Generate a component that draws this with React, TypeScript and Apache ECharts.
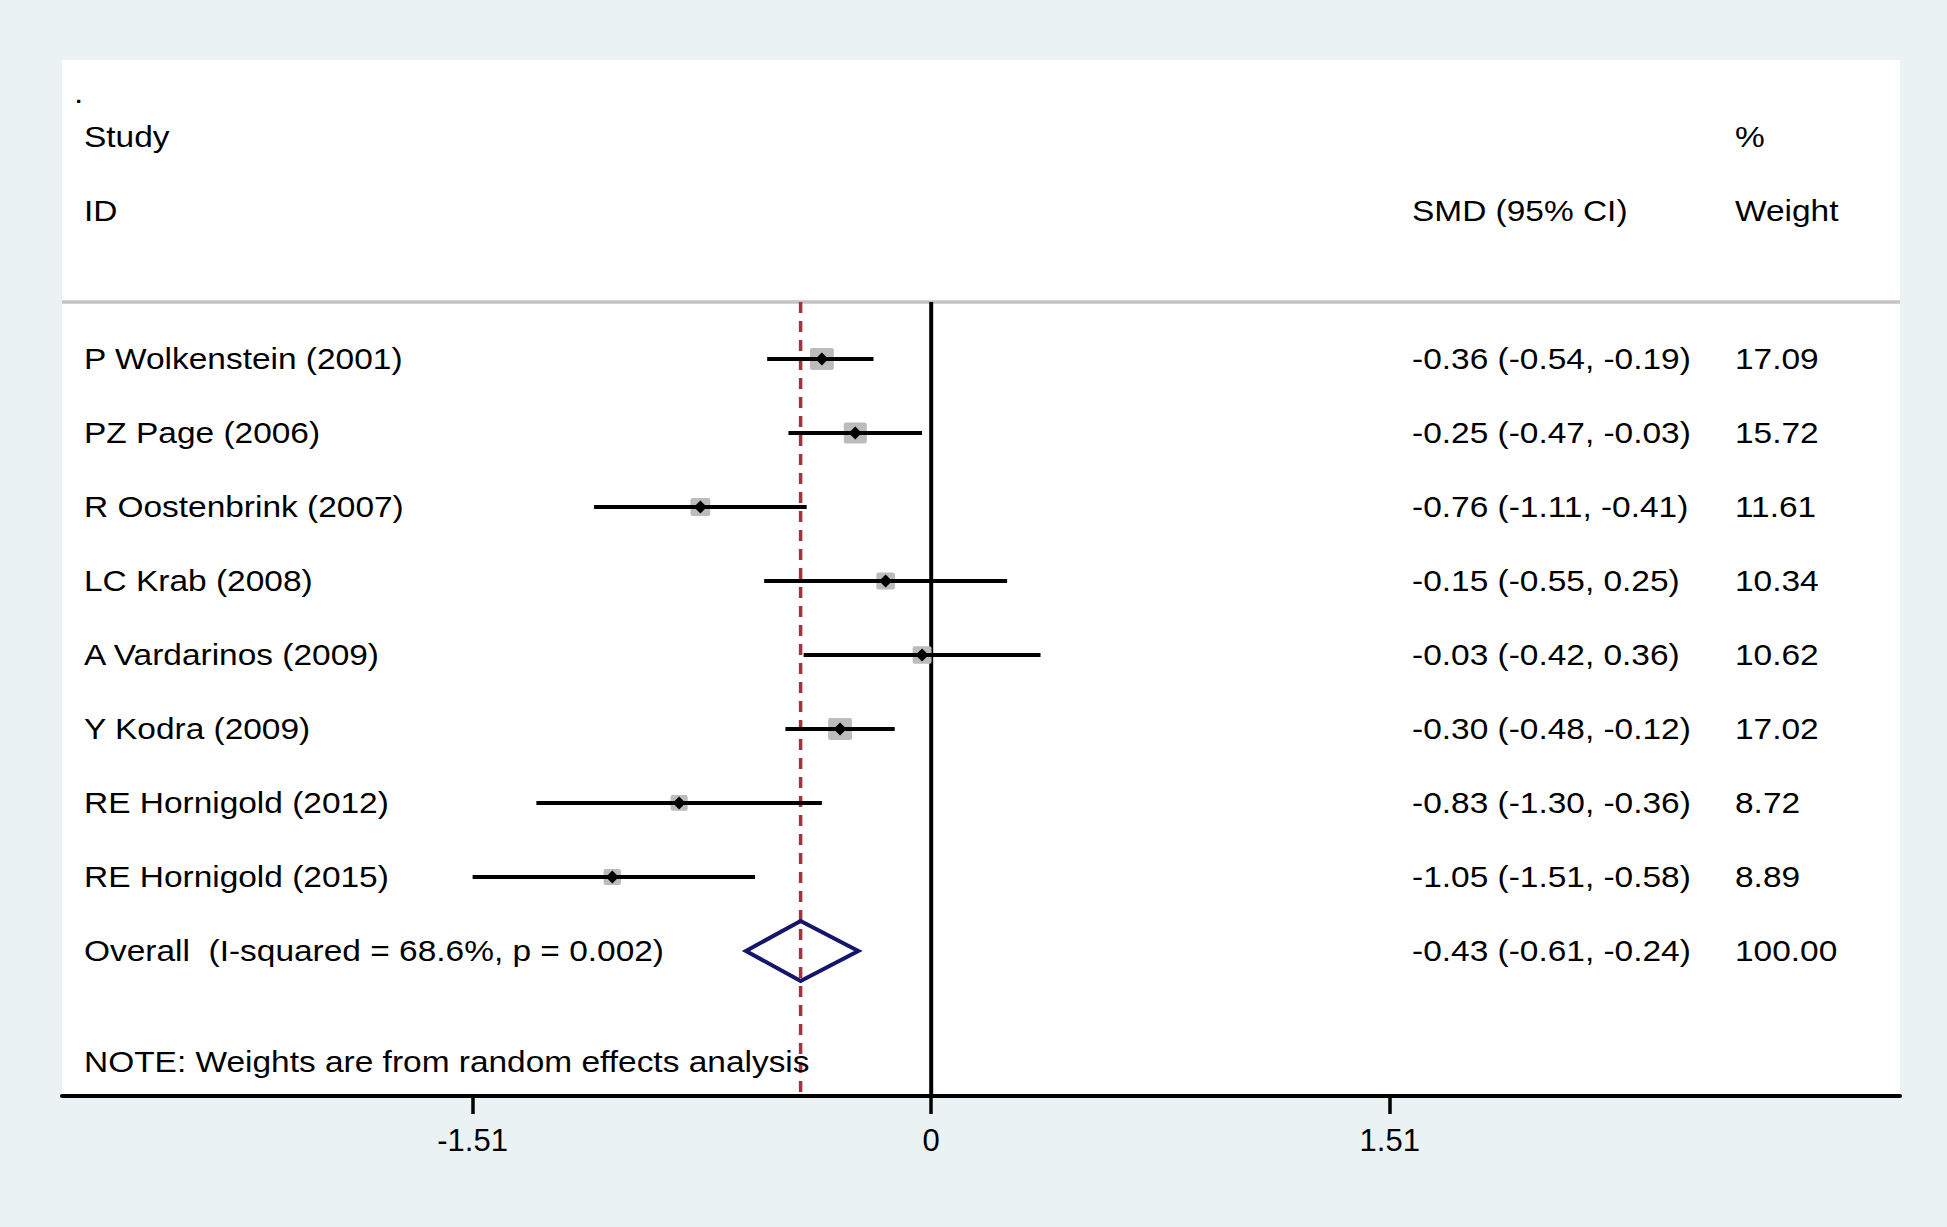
import React, { useEffect, useRef } from "react";
import * as echarts from "echarts";

// ---------- data ----------
const studies = [
  "P Wolkenstein (2001)",
  "PZ Page (2006)",
  "R Oostenbrink (2007)",
  "LC Krab (2008)",
  "A Vardarinos (2009)",
  "Y Kodra (2009)",
  "RE Hornigold (2012)",
  "RE Hornigold (2015)",
];
const smd = [-0.36, -0.25, -0.76, -0.15, -0.03, -0.3, -0.83, -1.05];
const lower = [-0.54, -0.47, -1.11, -0.55, -0.42, -0.48, -1.3, -1.51];
const upper = [-0.19, -0.03, -0.41, 0.25, 0.36, -0.12, -0.36, -0.58];
const weights = [17.09, 15.72, 11.61, 10.34, 10.62, 17.02, 8.72, 8.89];

const overallLabel = "Overall  (I-squared = 68.6%, p = 0.002)";
const overallSmd = -0.43;
const overallLower = -0.61;
const overallUpper = -0.24;
const overallWeight = 100.0;

const noteText = "NOTE: Weights are from random effects analysis";
const headerStudy = ["Study", "ID"];
const headerSmd = "SMD (95% CI)";
const headerWeight = ["%", "Weight"];

const tickValues = [-1.51, 0, 1.51];
const tickLabels = ["-1.51", "0", "1.51"];

// ---------- layout ----------
const W = 1947;
const H = 1227;
const X_MIN = -2.862;
const X_MAX = 3.19;
const Y_MIN = -4.04;
const Y_MAX = 9.96;
const SEP_ROW = -0.77;
const FONT = "'Liberation Sans', Arial, Helvetica, sans-serif";
const FS = 30;
const SX = 1.115;
const COLS = [84, 1412, 1735];

const fmt = (v: number) => v.toFixed(2);
const ciText = (e: number, l: number, u: number) => `${fmt(e)} (${fmt(l)}, ${fmt(u)})`;

type Cell = { row: number; col: number; text: string; x?: number };

function buildCells(): Cell[] {
  const cells: Cell[] = [];
  cells.push({ row: -3.6, col: 0, text: ".", x: 74 });
  cells.push({ row: -3, col: 0, text: headerStudy[0] });
  cells.push({ row: -2, col: 0, text: headerStudy[1] });
  cells.push({ row: -2, col: 1, text: headerSmd });
  cells.push({ row: -3, col: 2, text: headerWeight[0] });
  cells.push({ row: -2, col: 2, text: headerWeight[1] });
  studies.forEach((s, i) => {
    cells.push({ row: i, col: 0, text: s });
    cells.push({ row: i, col: 1, text: ciText(smd[i], lower[i], upper[i]) });
    cells.push({ row: i, col: 2, text: fmt(weights[i]) });
  });
  const oRow = studies.length;
  cells.push({ row: oRow, col: 0, text: overallLabel });
  cells.push({ row: oRow, col: 1, text: ciText(overallSmd, overallLower, overallUpper) });
  cells.push({ row: oRow, col: 2, text: fmt(overallWeight) });
  cells.push({ row: oRow + 1.5, col: 0, text: noteText });
  return cells;
}

export default function App() {
  const ref = useRef<HTMLDivElement>(null);

  useEffect(() => {
    if (!ref.current) return;
    const chart = echarts.init(ref.current, null, { renderer: "svg", width: W, height: H });
    const cells = buildCells();
    const studyData = studies.map((s, i) => [smd[i], i, lower[i], upper[i], weights[i]]);
    const maxW = Math.max(...weights);

    const option: any = {
      animation: false,
      backgroundColor: "#EAF2F3",
      grid: {
        left: 62,
        right: W - 1900,
        top: 60,
        bottom: H - 1096,
        show: true,
        backgroundColor: "#ffffff",
        borderWidth: 0,
      },
      xAxis: {
        type: "value",
        min: X_MIN,
        max: X_MAX,
        splitLine: { show: false },
        axisLine: { show: true, onZero: false, lineStyle: { color: "#000", width: 4 } },
        axisTick: {
          show: true,
          customValues: tickValues,
          length: 18,
          lineStyle: { color: "#000", width: 3.5 },
        },
        axisLabel: {
          show: true,
          customValues: tickValues,
          formatter: (v: number) => {
            const k = tickValues.findIndex((t) => Math.abs(t - v) < 1e-6);
            return k >= 0 ? tickLabels[k] : "";
          },
          color: "#000",
          fontSize: 31,
          fontFamily: FONT,
          margin: 29,
        },
      },
      yAxis: {
        type: "value",
        inverse: true,
        min: Y_MIN,
        max: Y_MAX,
        show: false,
      },
      series: [
        {
          type: "line",
          name: "separator",
          data: [
            [X_MIN, SEP_ROW],
            [X_MAX, SEP_ROW],
          ],
          symbol: "none",
          lineStyle: { color: "#C3C3C3", width: 3.5 },
          z: 1,
        },
        {
          type: "line",
          name: "overall effect",
          data: [
            [overallSmd, SEP_ROW],
            [overallSmd, Y_MAX],
          ],
          symbol: "none",
          lineStyle: { color: "#A3323E", width: 3.5, type: [11, 8] },
          z: 2,
        },
        {
          type: "line",
          name: "no effect",
          data: [
            [0, SEP_ROW],
            [0, Y_MAX],
          ],
          symbol: "none",
          lineStyle: { color: "#000", width: 4 },
          z: 2,
        },
        {
          type: "custom",
          name: "studies",
          data: studyData,
          clip: false,
          z: 3,
          renderItem: (params: any, api: any) => {
            const e = api.value(0);
            const row = api.value(1);
            const lo = api.value(2);
            const hi = api.value(3);
            const w = api.value(4);
            const [cx, cy] = api.coord([e, row]);
            const xl = api.coord([lo, row])[0];
            const xh = api.coord([hi, row])[0];
            const k = Math.sqrt(w / maxW);
            const sw = 24 * k;
            const sh = 22 * k;
            const d = 6.5;
            return {
              type: "group",
              children: [
                {
                  type: "rect",
                  shape: { x: cx - sw / 2, y: cy - sh / 2, width: sw, height: sh, r: 2 },
                  style: { fill: "#BCBCBC" },
                },
                {
                  type: "line",
                  shape: { x1: xl, y1: cy, x2: xh, y2: cy },
                  style: { stroke: "#000", lineWidth: 4 },
                },
                {
                  type: "polygon",
                  shape: {
                    points: [
                      [cx - d, cy],
                      [cx, cy - d],
                      [cx + d, cy],
                      [cx, cy + d],
                    ],
                  },
                  style: { fill: "#000" },
                },
              ],
            };
          },
        },
        {
          type: "custom",
          name: "overall",
          data: [[overallSmd, studies.length, overallLower, overallUpper]],
          clip: false,
          z: 4,
          renderItem: (params: any, api: any) => {
            const e = api.value(0);
            const row = api.value(1);
            const [cx, cy] = api.coord([e, row]);
            const xl = api.coord([api.value(2), row])[0];
            const xh = api.coord([api.value(3), row])[0];
            const h = 30;
            return {
              type: "polygon",
              shape: {
                points: [
                  [xl, cy],
                  [cx, cy - h],
                  [xh, cy],
                  [cx, cy + h],
                ],
              },
              style: { fill: "none", stroke: "#15156E", lineWidth: 4, lineJoin: "miter" },
            };
          },
        },
        {
          type: "custom",
          name: "table",
          data: cells.map((c) => [c.col, c.row]),
          clip: false,
          z: 5,
          renderItem: (params: any, api: any) => {
            const c = cells[params.dataIndex];
            const cy = api.coord([0, c.row])[1];
            return {
              type: "text",
              x: c.x !== undefined ? c.x : COLS[c.col],
              y: cy,
              scaleX: SX,
              scaleY: 1,
              style: {
                text: c.text,
                fill: "#000",
                fontSize: FS,
                fontFamily: FONT,
                align: "left",
                verticalAlign: "middle",
              },
            };
          },
        },
      ],
    };

    chart.setOption(option);
    return () => chart.dispose();
  }, []);

  return (
    <div
      ref={ref}
      style={{ position: "absolute", left: 0, top: 0, width: W, height: H }}
    />
  );
}
